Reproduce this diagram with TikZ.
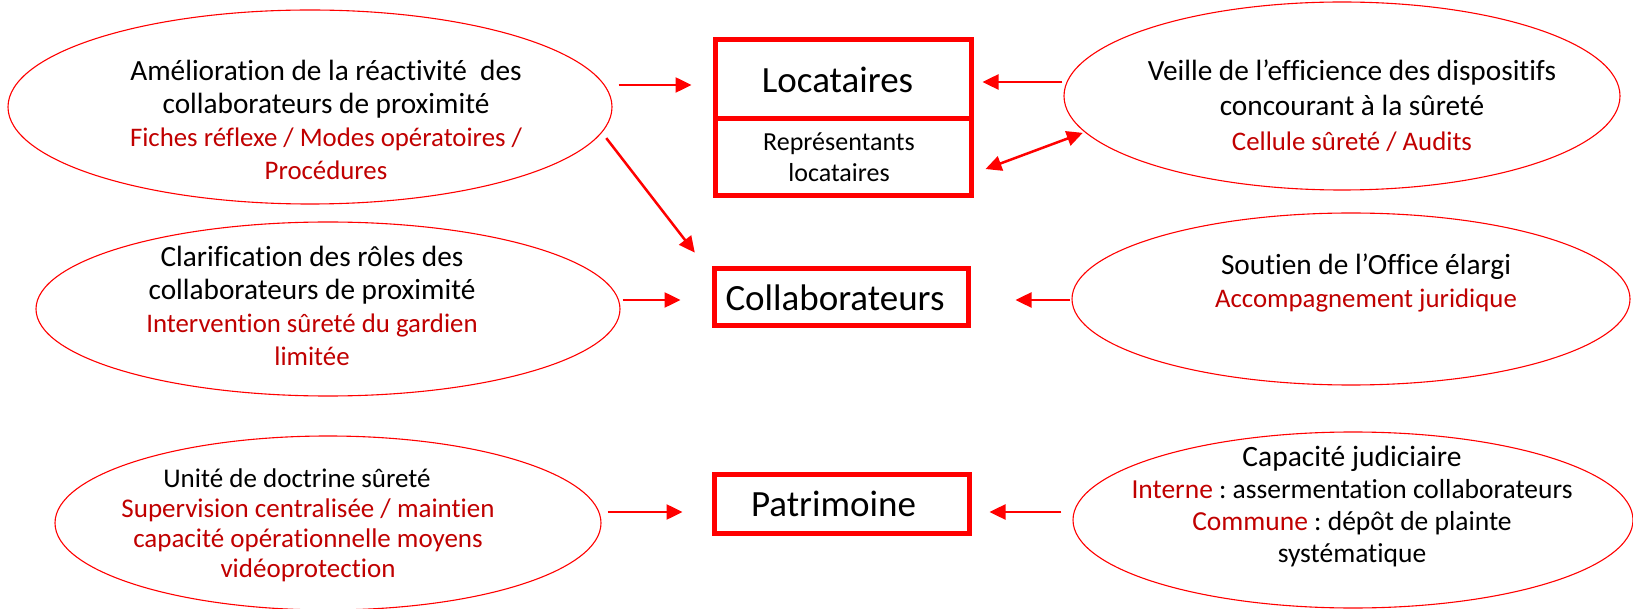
\documentclass[tikz,border=0pt]{standalone}
\usepackage{fontspec}
\setmainfont{Carlito}[Ligatures=CommonOff]
\usetikzlibrary{shapes.geometric,arrows.meta}
\definecolor{bred}{RGB}{255,0,0}
\definecolor{tred}{RGB}{192,0,0}
\newcommand\bkfont{\fontsize{29.3}{33}\selectfont}
\newcommand\rdfont{\fontsize{26.8}{33}\selectfont\color{tred}}
\frenchspacing
\begin{document}
\begin{tikzpicture}[x=1pt,y=-1pt,
  oval/.style={ellipse,draw=bred,line width=1.1pt,inner sep=0pt},
  txt/.style={align=center,inner sep=0pt,font=\fontsize{27}{33}\selectfont\frenchspacing},
  boxpart/.style={draw=bred,line width=5pt,inner sep=0pt,align=center},
  arr/.style={draw=bred,line width=2.5pt,-{Triangle[length=16pt,width=15pt]}},
  dbl/.style={draw=bred,line width=2.5pt,{Triangle[length=16pt,width=15pt]}-{Triangle[length=16pt,width=15pt]}}]
\useasboundingbox (0,0) rectangle (1633,609);
% ellipses
\node[oval,minimum width=604pt,minimum height=194pt] (e1) at (310,107) {};
\node[oval,minimum width=556pt,minimum height=188pt] (veille) at (1342,96) {};
\node[oval,minimum width=584pt,minimum height=174pt] (clar) at (328,309) {};
\node[oval,minimum width=558pt,minimum height=172pt] (soutien) at (1351,299) {};
\node[oval,minimum width=546pt,minimum height=174pt] (unite) at (328,523) {};
\node[oval,minimum width=560pt,minimum height=176pt] (capa) at (1353,520) {};
% ellipse texts
\node[txt] (e1t) at (326,119.5) {{\bkfont Amélioration de la réactivité\ \ des}\\{\bkfont collaborateurs de proximité}\\{\rdfont Fiches réflexe / Modes opératoires /}\\{\rdfont Procédures}};
\node[txt,font=\fontsize{28}{35}\selectfont] (veillet) at (1352,106) {{\bkfont Veille de l’efficience des dispositifs}\\{\bkfont concourant à la sûreté}\\{\rdfont Cellule sûreté / Audits}};
\node[txt] (clart) at (312,305.5) {{\bkfont Clarification des rôles des}\\{\bkfont collaborateurs de proximité}\\{\rdfont Intervention sûreté du gardien}\\{\rdfont limitée}};
\node[txt] (soutient) at (1366,282.5) {{\bkfont Soutien de l’Office élargi}\\{\rdfont Accompagnement juridique}};
\node[txt,font=\fontsize{27}{30}\selectfont] (unitet) at (308,525.5) {Unité de doctrine sûreté\hspace*{22pt}\\\textcolor{tred}{Supervision centralisée / maintien}\\\textcolor{tred}{capacité opérationnelle moyens}\\\textcolor{tred}{vidéoprotection}};
\node[txt,font=\fontsize{27.5}{32}\selectfont] (capat) at (1352,506) {{\fontsize{29.5}{32}\selectfont Capacité judiciaire}\\\textcolor{tred}{Interne} : assermentation collaborateurs\\\textcolor{tred}{Commune} : dépôt de plainte\\systématique};
% boxes
\node[boxpart,minimum width=256pt,minimum height=79pt,font=\fontsize{37}{44}\selectfont] (loc) at (843,79.5) {Locataires\hspace{11pt}};
\node[boxpart,minimum width=256pt,minimum height=77pt,font=\fontsize{26}{31}\selectfont] (rep) at (843,157.5) {Représentants\hspace*{8pt}\\locataires\hspace*{8pt}};
\node[boxpart,minimum width=254pt,minimum height=57pt,font=\fontsize{37}{44}\selectfont] (collab) at (841,297.5) {Collaborateurs\hspace{12pt}};
\node[boxpart,minimum width=255pt,minimum height=59pt,font=\fontsize{37}{44}\selectfont] (patri) at (841.5,503.5) {Patrimoine\hspace{16pt}};
% connectors
\draw[arr,shorten <=6pt,shorten >=21pt] ([yshift=-5.5pt]loc.west -| e1.east) -- ([yshift=-5.5pt]loc.west);
\draw[arr,shorten <=1pt,shorten >=9pt] ([yshift=-2.5pt]loc.east -| veille.west) -- ([yshift=-2.5pt]loc.east);
\draw[dbl,shorten <=12.8pt,shorten >=2pt] ([yshift=-16pt]rep.east) -- (veille.188);
\draw[arr,shorten <=7pt,shorten >=17.5pt] (e1.-5) -- ([xshift=-6pt]collab.north west);
\draw[arr,shorten <=2pt,shorten >=31pt] ([yshift=-2.5pt]collab.west -| clar.east) -- ([yshift=-2.5pt]collab.west);
\draw[arr,shorten <=1pt,shorten >=45pt] ([yshift=-2.5pt]collab.east -| soutien.west) -- ([yshift=-2.5pt]collab.east);
\draw[arr,shorten <=6pt,shorten >=29pt] ([yshift=-8.5pt]patri.west -| unite.east) -- ([yshift=-8.5pt]patri.west);
\draw[arr,shorten <=11pt,shorten >=18pt] ([yshift=-8.5pt]patri.east -| capa.west) -- ([yshift=-8.5pt]patri.east);
\end{tikzpicture}
\end{document}
